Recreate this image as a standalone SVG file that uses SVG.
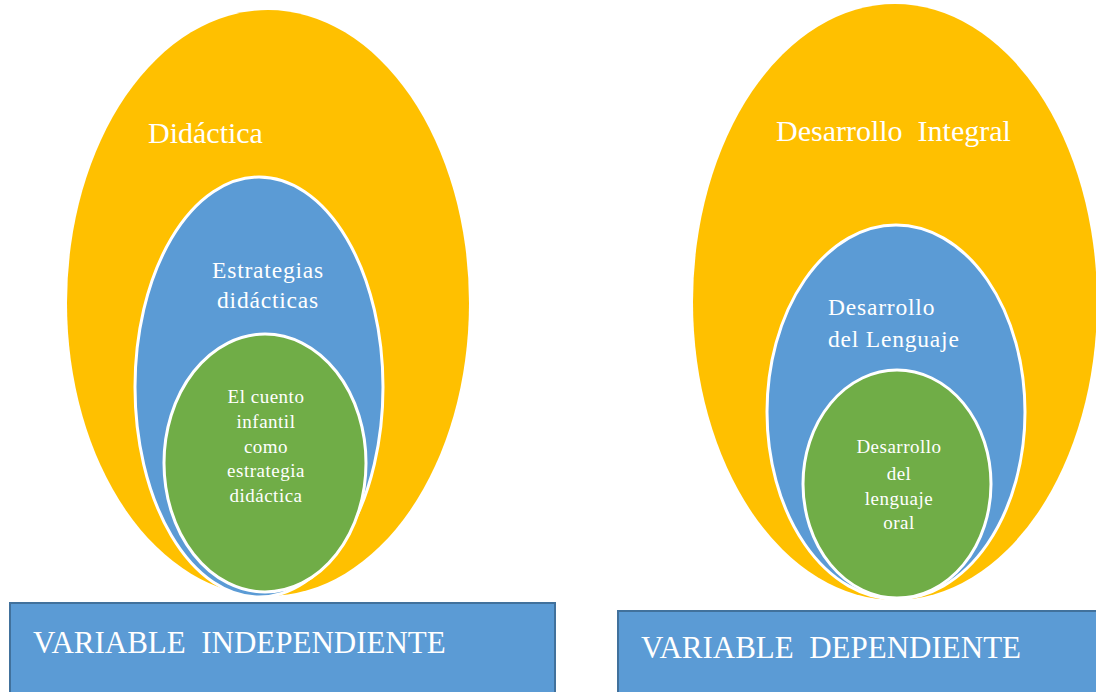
<svg xmlns="http://www.w3.org/2000/svg" width="1096" height="692" viewBox="0 0 1096 692">
<style>
.t{font-family:"Liberation Serif","Times New Roman",serif;fill:#FFFFFF}
.outer{fill:#FFC000}
.mid{fill:#5B9BD5;stroke:#FFFFFF;stroke-width:3}
.inner{fill:#70AD47;stroke:#FFFFFF;stroke-width:3}
.box{fill:#5B9BD5;stroke:#41719C;stroke-width:2}
.big{font-size:30px}
.md{font-size:23.5px;letter-spacing:0.8px}
.sm{font-size:19px;letter-spacing:0.5px}
.var{font-size:31px}
</style>
<rect width="1096" height="692" fill="#FFFFFF"/>
<g id="didactica">
<ellipse class="outer" cx="268" cy="303" rx="201" ry="293"/>
<text class="t big" x="148" y="143">Didáctica</text>
</g>
<g id="estrategias">
<ellipse class="mid" cx="259" cy="387" rx="124" ry="210"/>
<text class="t md" text-anchor="middle" x="268" y="278">Estrategias</text>
<text class="t md" text-anchor="middle" x="268" y="308">didácticas</text>
</g>
<g id="cuento">
<ellipse class="inner" cx="265" cy="463" rx="101" ry="129"/>
<text class="t sm" text-anchor="middle" x="266" y="403">El cuento</text>
<text class="t sm" text-anchor="middle" x="266" y="428">infantil</text>
<text class="t sm" text-anchor="middle" x="266" y="453">como</text>
<text class="t sm" text-anchor="middle" x="266" y="477">estrategia</text>
<text class="t sm" text-anchor="middle" x="266" y="502">didáctica</text>
</g>
<g id="integral">
<ellipse class="outer" cx="895" cy="302" rx="202" ry="298"/>
<text class="t big" x="776" y="141" xml:space="preserve">Desarrollo  Integral</text>
</g>
<g id="lenguaje">
<ellipse class="mid" cx="896" cy="412" rx="129" ry="187"/>
<text class="t md" x="828" y="315">Desarrollo</text>
<text class="t md" x="828" y="347">del Lenguaje</text>
</g>
<g id="oral">
<ellipse class="inner" cx="897" cy="484" rx="94" ry="114"/>
<text class="t sm" text-anchor="middle" x="899" y="453">Desarrollo</text>
<text class="t sm" text-anchor="middle" x="899" y="480">del</text>
<text class="t sm" text-anchor="middle" x="899" y="505">lenguaje</text>
<text class="t sm" text-anchor="middle" x="899" y="529">oral</text>
</g>
<g id="var-indep">
<rect class="box" x="10" y="603" width="545" height="95"/>
<text class="t var" x="33" y="653" xml:space="preserve">VARIABLE  INDEPENDIENTE</text>
</g>
<g id="var-dep">
<rect class="box" x="618" y="611" width="485" height="90"/>
<text class="t var" x="641" y="658" xml:space="preserve">VARIABLE  DEPENDIENTE</text>
</g>
<g id="connectors"></g>
</svg>
